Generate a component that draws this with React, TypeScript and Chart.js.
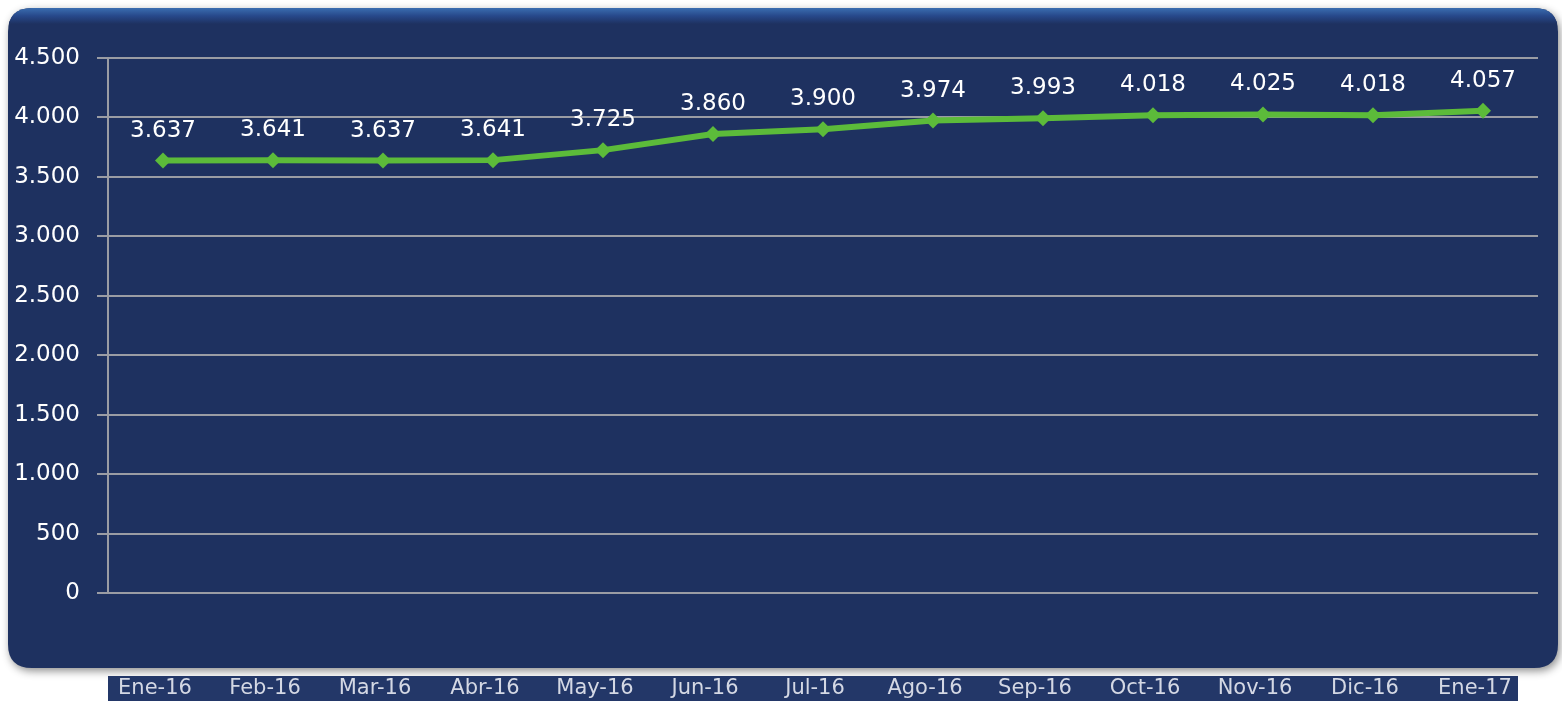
import React, { useEffect, useRef } from "react";
import { Chart, registerables } from "chart.js";

Chart.register(...registerables);

const categories = ["Ene-16", "Feb-16", "Mar-16", "Abr-16", "May-16", "Jun-16", "Jul-16", "Ago-16", "Sep-16", "Oct-16", "Nov-16", "Dic-16", "Ene-17"];
const values = [3637, 3641, 3637, 3641, 3725, 3860, 3900, 3974, 3993, 4018, 4025, 4018, 4057];
const yMin = 0;
const yMax = 4500;
const yStep = 500;

const FONT = "'DejaVu Sans', sans-serif";

function fmt(n: number): string {
  const s = Math.round(n).toString();
  return s.replace(/\B(?=(\d{3})+(?!\d))/g, ".");
}

const panelPlugin = {
  id: "panel",
  beforeDraw(chart: any) {
    const ctx = chart.ctx;
    ctx.save();
    ctx.fillStyle = "#ffffff";
    ctx.fillRect(0, 0, chart.width, chart.height);
    const x = 8, y = 8, w = 1550, h = 660, r = 24;
    const rr = (px: number, py: number, pw: number, ph: number, rad: number) => {
      ctx.beginPath();
      ctx.moveTo(px + rad, py);
      ctx.lineTo(px + pw - rad, py);
      ctx.quadraticCurveTo(px + pw, py, px + pw, py + rad);
      ctx.lineTo(px + pw, py + ph - rad);
      ctx.quadraticCurveTo(px + pw, py + ph, px + pw - rad, py + ph);
      ctx.lineTo(px + rad, py + ph);
      ctx.quadraticCurveTo(px, py + ph, px, py + ph - rad);
      ctx.lineTo(px, py + rad);
      ctx.quadraticCurveTo(px, py, px + rad, py);
      ctx.closePath();
    };
    ctx.shadowColor = "rgba(0,0,0,0.45)";
    ctx.shadowBlur = 8;
    ctx.shadowOffsetX = 2;
    ctx.shadowOffsetY = 3;
    rr(x, y, w, h, r);
    ctx.fillStyle = "#1e3160";
    ctx.fill();
    ctx.shadowColor = "transparent";
    const g = ctx.createLinearGradient(0, y, 0, y + 16);
    g.addColorStop(0, "#3a6db0");
    g.addColorStop(0.5, "#27488a");
    g.addColorStop(1, "#1e3160");
    ctx.save();
    rr(x, y, w, h, r);
    ctx.clip();
    ctx.fillStyle = g;
    ctx.fillRect(x, y, w, 16);
    ctx.restore();
    ctx.fillStyle = "#233768";
    ctx.fillRect(108, 676, 1410, 25);
    ctx.restore();
  },
};

const labelPlugin = {
  id: "valueLabels",
  afterDatasetsDraw(chart: any) {
    const ctx = chart.ctx;
    const meta = chart.getDatasetMeta(0);
    ctx.save();
    ctx.fillStyle = "#ffffff";
    ctx.font = `23px ${FONT}`;
    ctx.textAlign = "center";
    ctx.textBaseline = "alphabetic";
    meta.data.forEach((pt: any, i: number) => {
      ctx.fillText(fmt(values[i]), pt.x, pt.y - 24);
    });
    const xs = chart.scales.x;
    ctx.fillStyle = "#d4d8e4";
    ctx.font = `21px ${FONT}`;
    ctx.textBaseline = "middle";
    categories.forEach((c, i) => {
      ctx.fillText(c, xs.getPixelForValue(i) - 8, 689);
    });
    ctx.restore();
  },
};

export default function App() {
  const ref = useRef<HTMLCanvasElement>(null);
  useEffect(() => {
    if (!ref.current) return;
    const chart = new Chart(ref.current, {
      type: "line",
      data: {
        labels: categories,
        datasets: [
          {
            data: values,
            borderColor: "#5cbb3a",
            backgroundColor: "#5cbb3a",
            borderWidth: 6,
            pointStyle: "rectRot",
            pointRadius: 8,
            pointBorderWidth: 0,
            tension: 0,
          },
        ],
      },
      options: {
        responsive: false,
        animation: false,
        devicePixelRatio: 1,
        layout: { padding: { top: 58, right: 24, left: 0, bottom: 0 } },
        plugins: { legend: { display: false }, tooltip: { enabled: false } },
        scales: {
          x: {
            offset: true,
            grid: { display: false, drawTicks: false },
            border: { display: false },
            ticks: { display: false },
            afterFit(scale: any) {
              scale.height = 701 - 593;
            },
          },
          y: {
            min: yMin,
            max: yMax,
            grid: { color: "#9a9ca4", lineWidth: 2, tickLength: 11 },
            border: { display: true, color: "#9a9ca4", width: 2 },
            ticks: {
              stepSize: yStep,
              color: "#ffffff",
              font: { family: FONT, size: 23 },
              padding: 17,
              callback: (v: any) => fmt(Number(v)),
            },
            afterFit(scale: any) {
              scale.width = 108;
            },
          },
        },
      },
      plugins: [panelPlugin, labelPlugin],
    });
    return () => chart.destroy();
  }, []);
  return (
    <div style={{ position: "fixed", left: 0, top: 0, width: 1562, height: 701 }}>
      <canvas ref={ref} width={1562} height={701} style={{ display: "block" }} />
    </div>
  );
}
